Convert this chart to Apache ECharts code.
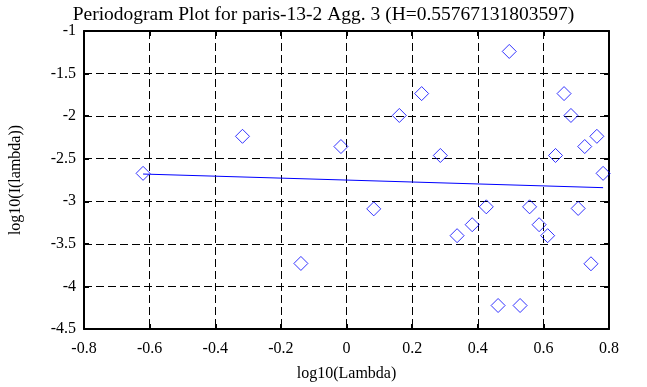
<!DOCTYPE html>
<html><head><meta charset="utf-8">
<script src="https://cdn.jsdelivr.net/npm/echarts@6/dist/echarts.min.js"></script>
<style>html,body{margin:0;padding:0;background:#fff}#c{width:647px;height:387px}</style>
</head><body><div id="c"></div>
<script>
var logLambda = [-0.620,-0.317,-0.139,-0.017,0.083,0.161,0.229,0.286,0.337,0.383,0.426,0.462,0.496,0.529,0.558,0.587,0.613,0.637,0.663,0.684,0.706,0.726,0.745,0.763,0.782];
var logI = [-2.672,-2.237,-3.730,-2.357,-3.089,-1.992,-1.735,-2.462,-3.404,-3.275,-3.065,-4.224,-1.240,-4.224,-3.065,-3.275,-3.404,-2.462,-1.735,-1.992,-3.084,-2.357,-3.734,-2.237,-2.672];
var fitX = [-0.620, 0.782];
var fitY = [-2.68, -2.84];
var xTicks = [-0.8,-0.6,-0.4,-0.2,0,0.2,0.4,0.6,0.8];
var yTicks = [-4.5,-4,-3.5,-3,-2.5,-2,-1.5,-1];

var font = '"Liberation Serif","DejaVu Serif",serif';
var pts = logLambda.map(function(x,i){return [x, logI[i]];});
var fit = fitX.map(function(x,i){return [x, fitY[i]];});
function axisBase(show){
  return {
    axisLine:{show:true,onZero:false,lineStyle:{color:'#000',width:2}},
    axisTick:{show:true,inside:true,length:5,lineStyle:{color:'#000',width:2}},
    splitLine:{show:false},
    axisLabel:{show:show,color:'#000',fontFamily:font,fontSize:16}
  };
}
var xMain = Object.assign(axisBase(true),{type:'value',min:xTicks[0],max:xTicks[xTicks.length-1],interval:0.2,position:'bottom',
  name:'log10(Lambda)',nameLocation:'middle',nameGap:37,nameTextStyle:{color:'#000',fontFamily:font,fontSize:16},
  splitLine:{show:true,lineStyle:{color:'#000',type:[8,4],width:1}}});
xMain.axisLabel.margin=12;
xMain.axisLabel.formatter=function(v){return String(Math.round(v*10)/10);};
var xTop = Object.assign(axisBase(false),{type:'value',min:xTicks[0],max:xTicks[xTicks.length-1],interval:0.2,position:'top'});
var yMain = Object.assign(axisBase(true),{type:'value',min:yTicks[0],max:yTicks[yTicks.length-1],interval:0.5,position:'left',
  name:'log10(I(lambda))',nameLocation:'middle',nameGap:60,nameTextStyle:{color:'#000',fontFamily:font,fontSize:16},
  splitLine:{show:true,lineStyle:{color:'#000',type:[8,4],width:1}}});
yMain.axisLabel.margin=8;
var yRight = Object.assign(axisBase(false),{type:'value',min:yTicks[0],max:yTicks[yTicks.length-1],interval:0.5,position:'right'});

var chart = echarts.init(document.getElementById('c'),null,{renderer:'canvas'});
chart.setOption({
  animation:false,
  backgroundColor:'#fff',
  title:{text:'Periodogram Plot for paris-13-2 Agg. 3 (H=0.55767131803597)',left:'center',top:0,
    textStyle:{color:'#000',fontFamily:font,fontSize:19.5,fontWeight:'normal'}},
  grid:{left:82,top:31,right:38,bottom:56,containLabel:false},
  xAxis:[xMain,xTop],
  yAxis:[yMain,yRight],
  series:[
    {type:'scatter',data:pts,symbol:'diamond',symbolSize:14,xAxisIndex:0,yAxisIndex:0,
     itemStyle:{color:'rgba(0,0,0,0)',borderColor:'#0000ff',borderWidth:1}},
    {type:'line',data:fit,showSymbol:false,symbol:'none',xAxisIndex:0,yAxisIndex:0,
     lineStyle:{color:'#0000ff',width:1}}
  ]
});
</script></body></html>
